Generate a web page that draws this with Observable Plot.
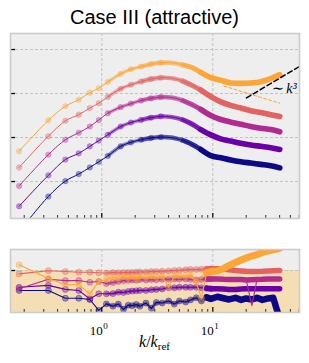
<!DOCTYPE html>
<html><head><meta charset="utf-8">
<script src="https://cdn.jsdelivr.net/npm/d3@7"></script>
<script src="https://cdn.jsdelivr.net/npm/@observablehq/plot@0.6"></script>
<style>
html,body{margin:0;padding:0;background:#fff;width:309px;height:363px;overflow:hidden;}
#wrap{position:relative;width:309px;height:363px;}
#title{position:absolute;left:0;top:7px;width:309px;text-align:center;font-family:"Liberation Sans";font-size:20px;line-height:20px;color:#000;}
#top{position:absolute;left:0;top:28px;}
#bot{position:absolute;left:0;top:244px;}
#xlabel{position:absolute;left:0;top:334px;width:309px;text-align:center;font-family:"Liberation Serif";font-size:16px;line-height:16px;}
#xlabel sub{font-size:11px;font-style:normal;vertical-align:-3px;line-height:0;}
</style>
</head><body>
<div id="wrap">
  <div id="title">Case III (attractive)</div>
  <div id="top"></div>
  <div id="bot"></div>
  <div id="xlabel"><i>k</i>/<i>k</i><sub>ref</sub></div>
</div>
<script>
// ---------- data ----------
const seriesNames = ["s1", "s2", "s3", "s4", "s5"];
const kTop = [0.18,0.33,0.47,0.62,0.78,0.94,1.13,1.48,1.83,2.25,2.77,3.40,4.18,5.15,6.34,7.80,9.60,11.8,14.5,17.9,22.0,27.1,33.3,40.1];
const topNavy    = [-1.14,-0.34,0.01,0.17,0.32,0.45,0.58,0.80,0.89,0.95,0.99,1.01,1.00,0.95,0.86,0.73,0.59,0.54,0.49,0.45,0.42,0.39,0.36,0.31];
const topPurple  = [-0.56,0.14,0.50,0.64,0.80,0.93,1.06,1.25,1.34,1.40,1.45,1.48,1.47,1.42,1.32,1.18,1.06,0.97,0.92,0.87,0.83,0.80,0.77,0.73];
const topMagenta = [-0.10,0.61,0.95,1.11,1.25,1.40,1.55,1.69,1.77,1.84,1.89,1.92,1.91,1.86,1.76,1.64,1.50,1.41,1.35,1.30,1.25,1.21,1.18,1.13];
const topSalmon  = [0.32,1.03,1.38,1.52,1.67,1.78,1.92,2.11,2.20,2.27,2.33,2.36,2.35,2.30,2.20,2.08,1.93,1.81,1.73,1.67,1.61,1.57,1.52,1.48];
const topOrange  = [0.69,1.39,1.71,1.86,2.02,2.12,2.26,2.45,2.55,2.61,2.67,2.70,2.70,2.66,2.60,2.48,2.36,2.30,2.24,2.23,2.24,2.27,2.34,2.43];

const kBot = [0.18,0.33,0.47,0.62,0.78,0.94,1.10,1.26,1.41,1.57,1.73,1.88,2.04,2.2,2.5,2.8,3.1,3.5,4.0,4.5,5.0,5.7,6.3,7.1,7.9,8.8,9.6,11,12.5,14,16,18,20,22.5,25,28,31.5,35,40];
const botNavy    = [-0.95,-0.95,-1.32,-1.32,-1.38,-1.90,-1.59,-1.70,-1.60,-1.85,-1.65,-1.68,-1.62,-1.70,-1.55,-1.80,-1.52,-1.55,-1.45,-1.60,-1.45,-1.50,-1.40,-1.30,-1.45,-1.28,-1.35,-1.25,-1.32,-1.38,-1.30,-1.40,-1.33,-1.38,-1.30,-1.40,-1.33,-1.30,-2.30];
const botPurple  = [-0.80,-0.71,-0.90,-0.95,-1.35,-1.11,-1.11,-1.10,-1.03,-1.05,-1.00,-0.98,-0.97,-0.95,-0.95,-0.92,-0.90,-0.88,-0.82,-0.82,-0.80,-0.80,-0.80,-0.80,-0.82,-0.85,-0.87,-0.87,-0.88,-0.90,-0.90,-0.88,-0.87,-0.87,-0.87,-0.87,-0.87,-0.87,-0.87];
const botMagenta = [-0.87,-0.42,-0.48,-0.48,-0.56,-0.52,-0.62,-0.57,-0.52,-0.48,-0.47,-0.45,-0.46,-0.43,-0.45,-0.43,-0.44,-0.42,-0.42,-0.40,-0.41,-0.40,-0.42,-0.45,-0.43,-0.40,-0.40,-0.40,-0.42,-0.43,-0.43,-0.43,-0.45,-1.67,-0.43,-0.42,-0.40,-0.40,-0.40];
const botSalmon  = [-0.16,-0.01,-0.05,-0.08,-0.08,-0.11,-0.12,-0.10,-0.11,-0.10,-0.09,-0.10,-0.08,-0.07,-0.07,-0.05,-0.05,-0.03,-0.02,0.00,0.01,0.03,0.05,0.05,0.06,0.07,0.08,0.08,0.07,0.04,0.00,-0.02,-0.04,-0.05,-0.05,-0.04,-0.02,-0.01,0.00];
const botOrange  = [0.27,-0.38,-0.68,-0.68,-1.11,-0.52,-0.43,-0.33,-0.38,-0.29,-0.36,-0.29,-0.40,-0.29,-0.33,-0.27,-0.33,-0.29,-0.80,-0.27,-0.26,-0.30,-0.21,-0.55,-1.32,-0.10,-0.05,-0.02,0.10,0.24,0.38,0.50,0.60,0.69,0.76,0.86,0.93,0.98,1.05];

// annotation lines (top panel)
const slopeK = [20.1, 59.9];
const slopeV = [1.90, 2.61];
const fitK = [12.6, 40.1];
const fitV = [2.17, 1.78];
const annotK = [43.6];
const annotV = [2.11];
const annotLabel = ["\u223C k\u00B3"];

// axes
const xDomain = [0.1505, 60.4];
const topYDomain = [-0.84, 3.364];
const botYDomain = [-2, 1];
const majorX = [1, 10];
const majorXExp = ["0", "1"];
const minorX = [0.2,0.3,0.4,0.5,0.6,0.7,0.8,0.9,2,3,4,5,6,7,8,9,20,30,40,50,60];
const topYTicks = [0, 1, 2, 3];
const refLevel = [0];

// ---------- style ----------
const palette = ["#0d0887", "#6a00a8", "#b12a90", "#e16462", "#fca636"];
const topSets = [topNavy, topPurple, topMagenta, topSalmon, topOrange];
const botSets = [botNavy, botPurple, botMagenta, botSalmon, botOrange];
const bg = "#eeeeee", gridC = "#b8b8b8", frameC = "#cccccc";
// band stages along k: [kmin, kmax, width, opacity]
const topBand = [[1.0, 2.3, 3.6, 0.45], [2.2, 5.2, 4.4, 0.65], [5.1, 8.0, 5.0, 0.85], [7.7, 100, 5.6, 1]];

function table(ks, vs) {
  return ks.map((k, i) => {
    const a = vs[i - 1], b = vs[i + 1];
    const spike = a !== undefined && b !== undefined && vs[i] < Math.min(a, b) - 0.35;
    return {k, v: vs[i], spike};
  });
}

// ---------- top panel ----------
const W = 309;
const topH = 195, topM = {t: 5, r: 10, b: 5, l: 10};
const topPH = topH - topM.t - topM.b, topPW = W - topM.l - topM.r;
const topMarks = [
  Plot.frame({fill: bg, stroke: null}),
  Plot.gridX(majorX, {x: d => d, stroke: gridC, strokeOpacity: 1, strokeDasharray: "3,2", strokeWidth: 0.8}),
  Plot.gridY(topYTicks, {y: d => d, stroke: gridC, strokeOpacity: 1, strokeDasharray: "3,2", strokeWidth: 0.8})
];
topSets.forEach((vs, s) => {
  const d = table(kTop, vs);
  const c = palette[s];
  topMarks.push(Plot.line(d, {x: "k", y: "v", stroke: c, strokeWidth: 1, curve: "catmull-rom", clip: true}));
  topBand.forEach(([k0, k1, w, o]) => {
    topMarks.push(Plot.line(d, {filter: r => r.k >= k0 && r.k <= k1, x: "k", y: "v", stroke: c, strokeWidth: w, strokeOpacity: o, curve: "catmull-rom", strokeLinecap: k1 > 50 ? "round" : "butt", clip: true}));
  });
  topMarks.push(Plot.dot(d, {filter: r => r.k < 4, x: "k", y: "v", r: 2.8, fill: c, fillOpacity: 0.4, stroke: c, strokeOpacity: 0.25, strokeWidth: 0.8, clip: true}));
});
topMarks.push(
  Plot.line(fitK.map((k, i) => ({k, v: fitV[i]})), {x: "k", y: "v", stroke: palette[4], strokeWidth: 1, strokeDasharray: "3,2.2", clip: true}),
  Plot.line(slopeK.map((k, i) => ({k, v: slopeV[i]})), {x: "k", y: "v", stroke: "#000", strokeWidth: 1.5, strokeDasharray: "5,3", clip: true}),
  Plot.text(annotK.map((k, i) => ({k, v: annotV[i], t: annotLabel[i]})), {x: "k", y: "v", text: "t", fontFamily: "Liberation Serif", fontStyle: "italic", fontSize: 14, fill: "#000"}),
  Plot.tickX(minorX, {x: d => d, insetTop: topPH - 3, stroke: "#000", strokeWidth: 0.8}),
  Plot.tickX(majorX, {x: d => d, insetTop: topPH - 5, stroke: "#000", strokeWidth: 1.2}),
  Plot.tickY(topYTicks, {y: d => d, insetRight: topPW - 5, stroke: "#000", strokeWidth: 1.3}),
  Plot.frame({stroke: frameC, strokeWidth: 1.6})
);
const topPlot = Plot.plot({
  width: W, height: topH,
  marginTop: topM.t, marginRight: topM.r, marginBottom: topM.b, marginLeft: topM.l,
  x: {type: "log", domain: xDomain, axis: null},
  y: {domain: topYDomain, axis: null},
  style: {background: "transparent", overflow: "visible"},
  marks: topMarks
});
document.getElementById("top").appendChild(topPlot);

// ---------- bottom panel ----------
const botH = 92, botM = {t: 5, r: 10, b: 24, l: 10};
const botPH = botH - botM.t - botM.b, botPW = W - botM.l - botM.r;
const botMarks = [
  Plot.frame({fill: bg, stroke: null}),
  Plot.gridX(majorX, {x: d => d, stroke: gridC, strokeOpacity: 1, strokeDasharray: "3,2", strokeWidth: 0.8}),
  Plot.rect(refLevel, {x1: () => xDomain[0], x2: () => xDomain[1], y1: () => botYDomain[0], y2: d => d, fill: "#f5deb3"}),
  Plot.gridY(refLevel, {y: d => d, stroke: gridC, strokeOpacity: 1, strokeDasharray: "3,2", strokeWidth: 0.8})
];
botSets.forEach((vs, s) => {
  const d = table(kBot, vs);
  const c = palette[s];
  botMarks.push(
    Plot.line(d, {x: "k", y: "v", stroke: c, strokeWidth: 1.1, clip: true}),
    Plot.line(d, {filter: r => r.k >= 1.0 && r.k <= 9 && !r.spike, x: "k", y: "v", stroke: c, strokeWidth: 3.5, strokeOpacity: 0.4, clip: true}),
    Plot.line(d, {filter: r => r.k >= 8.5 && !r.spike, x: "k", y: "v", stroke: c, strokeWidth: s === 0 ? 6.5 : (s === 4 ? 7 : 5.5), strokeLinecap: "round", clip: true}),
    Plot.dot(d, {filter: r => r.k <= 10, x: "k", y: "v", r: 3, fill: c, fillOpacity: 0.35, stroke: c, strokeOpacity: 0.5, strokeWidth: 0.8, clip: true})
  );
});
botMarks.push(
  Plot.tickX(minorX, {x: d => d, insetTop: botPH - 3, stroke: "#000", strokeWidth: 0.8}),
  Plot.tickX(majorX, {x: d => d, insetTop: botPH - 5, stroke: "#000", strokeWidth: 1.2}),
  Plot.tickY(refLevel, {y: d => d, insetRight: botPW - 5, stroke: "#000", strokeWidth: 1.3}),
  Plot.frame({stroke: frameC, strokeWidth: 1.6}),
  Plot.text(majorX, {x: d => d, text: () => "10", frameAnchor: "bottom", textAnchor: "end", lineAnchor: "bottom", dx: 1, dy: 22, fontSize: 13, fontFamily: "Liberation Serif", fill: "#000"}),
  Plot.text(majorX, {x: d => d, text: (d, i) => majorXExp[i], frameAnchor: "bottom", textAnchor: "start", lineAnchor: "bottom", dx: 1.5, dy: 16, fontSize: 9, fontFamily: "Liberation Serif", fill: "#000"})
);
const botPlot = Plot.plot({
  width: W, height: botH,
  marginTop: botM.t, marginRight: botM.r, marginBottom: botM.b, marginLeft: botM.l,
  x: {type: "log", domain: xDomain, axis: null},
  y: {domain: botYDomain, axis: null},
  style: {background: "transparent", overflow: "visible"},
  marks: botMarks
});
document.getElementById("bot").appendChild(botPlot);
</script>
</body></html>
